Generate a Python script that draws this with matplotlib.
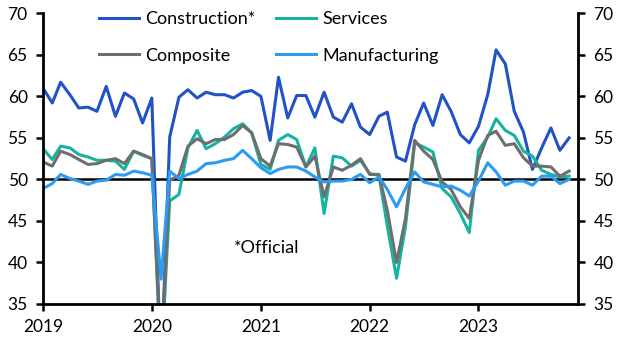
import numpy as np
import pandas as pd
import matplotlib
matplotlib.use("Agg")
import matplotlib.pyplot as plt

plt.rcParams['font.family'] = ['Lato', 'DejaVu Sans']

# monthly, Jan 2019 .. Nov 2023
dates = pd.date_range("2019-01-01", periods=59, freq="MS")

construction = [61.0, 59.2, 61.7, 60.2, 58.6, 58.7, 58.2, 61.2, 57.6, 60.4, 59.7, 56.8,
                59.8, 26.8, 55.1, 59.9, 60.8, 59.8, 60.5, 60.2, 60.2, 59.8, 60.5, 60.7,
                60.0, 54.7, 62.3, 57.4, 60.1, 60.1, 57.5, 60.5, 57.5, 56.9, 59.1, 56.3,
                55.4, 57.6, 58.1, 52.7, 52.2, 56.6, 59.2, 56.5, 60.2, 58.2, 55.4, 54.4,
                56.4, 60.2, 65.6, 63.9, 58.2, 55.7, 51.2, 53.8, 56.2, 53.5, 55.0]
services = [53.7, 52.4, 54.0, 53.8, 53.0, 52.7, 52.3, 52.3, 52.2, 51.2, 53.4, 52.9,
            52.5, 27.5, 47.4, 48.2, 53.8, 55.9, 53.7, 54.3, 55.1, 56.1, 56.7, 55.6,
            51.8, 51.2, 54.7, 55.4, 54.8, 51.5, 53.8, 45.9, 52.8, 52.6, 51.6, 52.3,
            50.7, 50.5, 44.4, 38.1, 44.3, 54.4, 53.9, 53.3, 48.9, 47.9, 45.9, 43.6,
            53.5, 55.1, 57.3, 55.9, 55.3, 53.4, 52.8, 51.1, 50.6, 50.3, 50.4]
composite = [52.1, 51.6, 53.4, 53.0, 52.4, 51.8, 51.9, 52.3, 52.5, 51.9, 53.4, 53.0,
             52.5, 28.2, 49.9, 50.5, 54.0, 54.9, 54.3, 54.8, 54.8, 55.4, 56.5, 55.6,
             52.5, 51.6, 54.3, 54.2, 53.9, 51.5, 52.8, 47.9, 51.5, 51.1, 51.7, 52.5,
             50.6, 50.6, 46.3, 40.0, 45.3, 54.7, 53.4, 52.4, 49.7, 48.8, 46.7, 45.3,
             52.3, 55.3, 55.8, 54.1, 54.3, 52.6, 51.6, 51.6, 51.5, 50.4, 51.0]
manufacturing = [48.9, 49.5, 50.6, 50.1, 49.8, 49.4, 49.8, 49.9, 50.6, 50.5, 51.0, 50.8,
                 50.5, 38.0, 51.0, 50.1, 50.6, 51.0, 51.9, 52.0, 52.3, 52.5, 53.5, 52.5,
                 51.4, 50.7, 51.2, 51.5, 51.5, 51.0, 50.3, 49.7, 49.8, 49.8, 50.0, 50.6,
                 49.6, 50.3, 48.8, 46.7, 48.9, 50.9, 49.7, 49.4, 49.1, 49.2, 48.7, 48.0,
                 49.8, 52.0, 50.9, 49.3, 49.8, 49.8, 49.3, 50.4, 50.4, 49.5, 50.0]

yticks = [35, 40, 45, 50, 55, 60, 65, 70]
years = ["2019", "2020", "2021", "2022", "2023"]

fig = plt.figure(figsize=(6.29, 3.52), dpi=100)
ax = fig.add_axes([0.0684, 0.1364, 0.8506, 0.8258])

lw = 2.2
l1, = ax.plot(dates, construction, color="#2152c6", lw=lw, label="Construction*")
l2, = ax.plot(dates, services, color="#16b3a0", lw=lw, label="Services")
l3, = ax.plot(dates, composite, color="#6e6e6e", lw=lw, label="Composite")
l4, = ax.plot(dates, manufacturing, color="#2b9bf4", lw=lw, label="Manufacturing")
ax.axhline(50, color="black", lw=1.8, zorder=1.5)

ax.set_ylim(35, 70)
ax.set_xlim(pd.Timestamp("2019-01-01"), pd.Timestamp("2023-12-01"))
ax.set_yticks(yticks)
ax.set_xticks([pd.Timestamp(f"{y}-01-01") for y in years])
ax.xaxis.set_major_formatter(plt.FixedFormatter(years))

for s in ["left", "right", "bottom"]:
    ax.spines[s].set_linewidth(2)
ax.spines["top"].set_visible(False)
ax.tick_params(axis="both", direction="out", width=1.8, length=5, labelsize=12.5, color="black")
ax.tick_params(axis="y", left=True, right=True, labelleft=True, labelright=True, pad=6)
ax.tick_params(axis="x", pad=6)

ax.text(pd.Timestamp("2020-10-01"), 41.8, "*Official", fontsize=13, va="center", ha="left")

ax.legend(handles=[l1, l3, l2, l4], ncol=2, loc="upper left", bbox_to_anchor=(0.105, 1.008),
          frameon=False, fontsize=13, borderaxespad=0, borderpad=0,
          handlelength=2.2, handletextpad=0.35, columnspacing=1.15, labelspacing=1.15)

fig.savefig("out.png", dpi=100)
